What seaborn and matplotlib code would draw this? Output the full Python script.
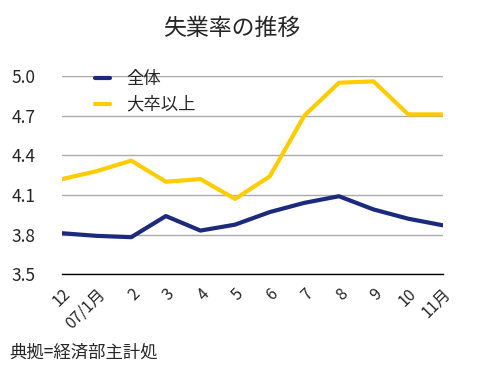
import matplotlib
matplotlib.use("Agg")
import matplotlib.pyplot as plt
import seaborn as sns
import pandas as pd

months = ["12", "07/1月", "2", "3", "4", "5", "6", "7", "8", "9", "10", "11月"]
overall = [3.81, 3.79, 3.78, 3.94, 3.83, 3.875, 3.97, 4.04, 4.09, 3.99, 3.92, 3.87]
college = [4.22, 4.28, 4.36, 4.20, 4.22, 4.07, 4.24, 4.70, 4.95, 4.96, 4.71, 4.71]
series_names = ["全体", "大卒以上"]
yticks = [3.5, 3.8, 4.1, 4.4, 4.7, 5.0]

sns.set_theme(style="white")
plt.rcParams['font.family'] = ['Noto Sans CJK JP', 'DejaVu Sans']

df = pd.DataFrame({
    "x": list(range(len(months))) * 2,
    "value": overall + college,
    "series": [series_names[0]] * len(months) + [series_names[1]] * len(months),
})

fig = plt.figure(figsize=(4.92, 3.73), dpi=100)
ax = fig.add_axes([0.126, 0.265, 0.774, 0.531])

sns.lineplot(data=df, x="x", y="value", hue="series",
             palette={series_names[0]: "#1c2a7c", series_names[1]: "#ffcc00"},
             linewidth=3, ax=ax, legend=True)

ax.set_xlim(0, len(months) - 1)
ax.set_ylim(3.5, 5.0)
ax.set_yticks(yticks)
ax.set_yticklabels([f"{v:.1f}" for v in yticks], fontsize=12.5)
ax.set_xticks(range(len(months)))
ax.set_xticklabels(months, rotation=45, ha="right", rotation_mode="anchor", fontsize=11.5)
ax.tick_params(axis="y", length=0, pad=19)
ax.tick_params(axis="x", length=0, pad=8)
ax.grid(axis="y", color="#aaaaaa", linewidth=1)
ax.set_axisbelow(True)
for s in ["left", "right", "top"]:
    ax.spines[s].set_visible(False)
ax.spines["bottom"].set_color("black")
ax.spines["bottom"].set_linewidth(1)
ax.set_xlabel("")
ax.set_ylabel("")

leg = ax.legend(loc="upper left", bbox_to_anchor=(0.045, 1.11), frameon=False,
                fontsize=12.5, handlelength=0.9, handletextpad=0.9, labelspacing=0.45)

fig.text(0.47, 0.925, "失業率の推移", ha="center", va="center", fontsize=16.5)
fig.text(0.02, 0.055, "典拠=経済部主計処", ha="left", va="center", fontsize=12.5)

fig.savefig("out.png", dpi=100)
